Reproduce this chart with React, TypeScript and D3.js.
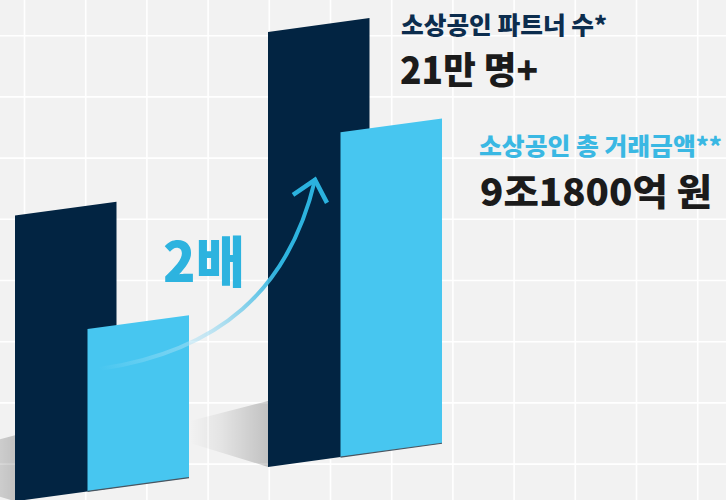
import * as d3 from "d3";

// 두 시점 비교 (이전 / 현재)
const periods = ["이전", "현재"];
const partners = [13.8, 21]; // 소상공인 파트너 수 (만 명)
const amounts = [4.59, 9.18]; // 소상공인 총 거래금액 (조 원)

const partnerTitle = "소상공인 파트너 수*";
const partnerValue = "21만 명+";
const amountTitle = "소상공인 총 거래금액**";
const amountValue = "9조1800억 원";
const growthLabel = "2배";

const App: React.FC = () => {
    const width = 726;
    const height = 500;
    const slope = 0.136; // 원근감 기울기
    const barW = 101.5;
    const lightOffset = 72.5;
    const font = "'Noto Sans CJK KR', 'Noto Sans', sans-serif";

    const x = d3.scaleBand(periods, [15, 521]).padding(0);
    const yDark = d3.scaleLinear([0, 21], [0, 435]);
    const yLight = d3.scaleLinear([0, 9.18], [0, 324.7]);
    const base = (px: number) => 501.3 - slope * (px - 15);

    const gridStep = 61.2;
    const gx = d3.range(24.5, width, gridStep);
    const gy = d3.range(35.7, height, gridStep);

    const bar = (x0: number, h: number) => {
        const b0 = base(x0);
        const b1 = base(x0 + barW);
        return `M${x0},${b0}L${x0},${b0 - h}L${x0 + barW},${b1 - h}L${x0 + barW},${b1}Z`;
    };

    const shadow = (x0: number) => {
        const b = base(x0);
        return `M${x0},${b}L${x0},${b - 66}L${x0 - 78},${b - 46}L${x0 - 78},${b - 24}Z`;
    };

    // 화살표: 첫 번째 밝은 막대에서 두 번째 진한 막대로
    const l0 = (x(periods[0]) ?? 0) + lightOffset;
    const d1 = x(periods[1]) ?? 0;
    const s0: [number, number] = [l0 + 12, base(l0) - yLight(amounts[0]) + 40];
    const tip: [number, number] = [d1 + 47, base(d1) - yDark(partners[1]) + 148];
    const curve = d3.path();
    curve.moveTo(s0[0], s0[1]);
    curve.bezierCurveTo(s0[0] + 120, s0[1] - 18, tip[0] - 26, tip[1] + 110, tip[0], tip[1]);

    return (
        <svg width={width} height={height} style={{ position: "absolute", left: 0, top: 0 }}>
            <defs>
                <linearGradient id="arrowGrad" gradientUnits="userSpaceOnUse" x1={s0[0]} y1={s0[1]} x2={tip[0]} y2={tip[1]}>
                    <stop offset="0" stopColor="#d4f0fb" stopOpacity="0" />
                    <stop offset="0.35" stopColor="#a8def3" stopOpacity="0.6" />
                    <stop offset="0.7" stopColor="#2fb4e0" stopOpacity="1" />
                    <stop offset="1" stopColor="#2bb2de" stopOpacity="1" />
                </linearGradient>
                <linearGradient id="shadowGrad" x1="1" y1="0" x2="0" y2="0">
                    <stop offset="0" stopColor="#000" stopOpacity="0.2" />
                    <stop offset="0.6" stopColor="#000" stopOpacity="0.06" />
                    <stop offset="1" stopColor="#000" stopOpacity="0" />
                </linearGradient>
            </defs>
            <rect width={width} height={height} fill="#f2f2f2" />
            <g stroke="#ffffff" strokeWidth="1.6">
                {gx.map((v, i) => <line key={"x" + i} x1={v} x2={v} y1={0} y2={height} />)}
                {gy.map((v, i) => <line key={"y" + i} y1={v} y2={v} x1={0} x2={width} />)}
            </g>
            {periods.map((p, i) => {
                const x0 = x(p) ?? 0;
                const x1 = x0 + lightOffset;
                return (
                    <g key={p}>
                        <path d={shadow(x0)} fill="url(#shadowGrad)" />
                        <path d={bar(x0, yDark(partners[i]))} fill="#022442" />
                        <path d={bar(x1, yLight(amounts[i]))} fill="#47c6f0" />
                        <line x1={x1} y1={base(x1)} x2={x1 + barW} y2={base(x1 + barW)} stroke="#4a5560" strokeWidth="1.2" />
                    </g>
                );
            })}
            <path d={curve.toString()} fill="none" stroke="url(#arrowGrad)" strokeWidth="4" strokeLinecap="round" />
            <polyline
                points={`${tip[0] - 22},${tip[1] + 15} ${tip[0]},${tip[1]} ${tip[0] + 12},${tip[1] + 23}`}
                fill="none" stroke="#2bb2de" strokeWidth="4.5" strokeLinejoin="miter"
            />
            <g fontFamily={font} fontWeight="800">
                <text x={163} y={282} fontSize="55" fill="#2db3df" textLength={82} lengthAdjust="spacingAndGlyphs">{growthLabel}</text>
                <text x={401} y={34} fontSize="24" fill="#0c2d4e" textLength={206} lengthAdjust="spacingAndGlyphs">{partnerTitle}</text>
                <text x={400} y={84} fontSize="37" fill="#1b1b1b" textLength={138} lengthAdjust="spacingAndGlyphs">{partnerValue}</text>
                <text x={479} y={155} fontSize="24" fill="#3ab8e3" textLength={243} lengthAdjust="spacingAndGlyphs">{amountTitle}</text>
                <text x={480} y={206} fontSize="37" fill="#1b1b1b" textLength={232} lengthAdjust="spacingAndGlyphs">{amountValue}</text>
            </g>
        </svg>
    );
};

export default App;
